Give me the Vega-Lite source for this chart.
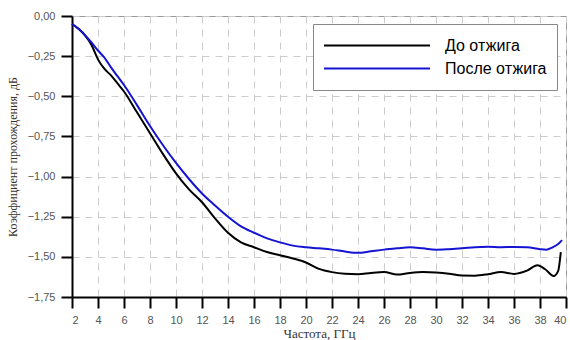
{
  "$schema": "https://vega.github.io/schema/vega-lite/v6.json",
  "width": 494,
  "height": 281,
  "autosize": {"type": "none"},
  "padding": {"left": 72, "top": 16, "right": 4, "bottom": 43},
  "background": "white",
  "config": {
    "view": {"stroke": "#999999", "strokeWidth": 1},
    "axis": {
      "domainColor": "#000000",
      "domainWidth": 2,
      "tickColor": "#000000",
      "tickWidth": 2,
      "tickSize": 11,
      "labelFont": "Liberation Sans",
      "labelFontSize": 11,
      "labelColor": "#555555",
      "gridColor": "#cccccc",
      "gridDash": [7, 6],
      "gridWidth": 1,
      "titleFont": "Liberation Serif",
      "titleFontSize": 12,
      "titleFontWeight": "normal",
      "titleColor": "#333333"
    }
  },
  "data": {
    "values": [
      {"f": 2, "v": -0.05, "s": "До отжига"},
      {"f": 2.5, "v": -0.08, "s": "До отжига"},
      {"f": 3, "v": -0.12, "s": "До отжига"},
      {"f": 3.5, "v": -0.18, "s": "До отжига"},
      {"f": 4, "v": -0.27, "s": "До отжига"},
      {"f": 4.5, "v": -0.33, "s": "До отжига"},
      {"f": 5, "v": -0.37, "s": "До отжига"},
      {"f": 5.5, "v": -0.42, "s": "До отжига"},
      {"f": 6, "v": -0.47, "s": "До отжига"},
      {"f": 7, "v": -0.6, "s": "До отжига"},
      {"f": 8, "v": -0.73, "s": "До отжига"},
      {"f": 9, "v": -0.86, "s": "До отжига"},
      {"f": 10, "v": -0.98, "s": "До отжига"},
      {"f": 11, "v": -1.08, "s": "До отжига"},
      {"f": 12, "v": -1.16, "s": "До отжига"},
      {"f": 13, "v": -1.26, "s": "До отжига"},
      {"f": 14, "v": -1.35, "s": "До отжига"},
      {"f": 15, "v": -1.41, "s": "До отжига"},
      {"f": 16, "v": -1.44, "s": "До отжига"},
      {"f": 17, "v": -1.47, "s": "До отжига"},
      {"f": 18, "v": -1.49, "s": "До отжига"},
      {"f": 19, "v": -1.51, "s": "До отжига"},
      {"f": 20, "v": -1.535, "s": "До отжига"},
      {"f": 21, "v": -1.575, "s": "До отжига"},
      {"f": 22, "v": -1.595, "s": "До отжига"},
      {"f": 23, "v": -1.605, "s": "До отжига"},
      {"f": 24, "v": -1.608, "s": "До отжига"},
      {"f": 25, "v": -1.6, "s": "До отжига"},
      {"f": 26, "v": -1.595, "s": "До отжига"},
      {"f": 27, "v": -1.61, "s": "До отжига"},
      {"f": 28, "v": -1.6, "s": "До отжига"},
      {"f": 29, "v": -1.595, "s": "До отжига"},
      {"f": 30, "v": -1.598, "s": "До отжига"},
      {"f": 31, "v": -1.605, "s": "До отжига"},
      {"f": 32, "v": -1.616, "s": "До отжига"},
      {"f": 33, "v": -1.617, "s": "До отжига"},
      {"f": 34, "v": -1.608, "s": "До отжига"},
      {"f": 35, "v": -1.594, "s": "До отжига"},
      {"f": 36, "v": -1.606, "s": "До отжига"},
      {"f": 37, "v": -1.586, "s": "До отжига"},
      {"f": 37.8, "v": -1.552, "s": "До отжига"},
      {"f": 38.4, "v": -1.577, "s": "До отжига"},
      {"f": 39.05, "v": -1.619, "s": "До отжига"},
      {"f": 39.4, "v": -1.587, "s": "До отжига"},
      {"f": 39.6, "v": -1.47, "s": "До отжига"},
      {"f": 2, "v": -0.05, "s": "После отжига"},
      {"f": 2.5, "v": -0.08, "s": "После отжига"},
      {"f": 3, "v": -0.12, "s": "После отжига"},
      {"f": 3.5, "v": -0.165, "s": "После отжига"},
      {"f": 4, "v": -0.215, "s": "После отжига"},
      {"f": 4.5, "v": -0.26, "s": "После отжига"},
      {"f": 5, "v": -0.32, "s": "После отжига"},
      {"f": 5.5, "v": -0.375, "s": "После отжига"},
      {"f": 6, "v": -0.43, "s": "После отжига"},
      {"f": 7, "v": -0.555, "s": "После отжига"},
      {"f": 8, "v": -0.685, "s": "После отжига"},
      {"f": 9, "v": -0.805, "s": "После отжига"},
      {"f": 10, "v": -0.915, "s": "После отжига"},
      {"f": 11, "v": -1.015, "s": "После отжига"},
      {"f": 12, "v": -1.105, "s": "После отжига"},
      {"f": 13, "v": -1.18, "s": "После отжига"},
      {"f": 14, "v": -1.25, "s": "После отжига"},
      {"f": 15, "v": -1.31, "s": "После отжига"},
      {"f": 16, "v": -1.35, "s": "После отжига"},
      {"f": 17, "v": -1.385, "s": "После отжига"},
      {"f": 18, "v": -1.41, "s": "После отжига"},
      {"f": 19, "v": -1.43, "s": "После отжига"},
      {"f": 20, "v": -1.44, "s": "После отжига"},
      {"f": 21, "v": -1.447, "s": "После отжига"},
      {"f": 22, "v": -1.455, "s": "После отжига"},
      {"f": 23, "v": -1.467, "s": "После отжига"},
      {"f": 24, "v": -1.475, "s": "После отжига"},
      {"f": 25, "v": -1.465, "s": "После отжига"},
      {"f": 26, "v": -1.455, "s": "После отжига"},
      {"f": 27, "v": -1.447, "s": "После отжига"},
      {"f": 28, "v": -1.44, "s": "После отжига"},
      {"f": 29, "v": -1.447, "s": "После отжига"},
      {"f": 30, "v": -1.455, "s": "После отжига"},
      {"f": 31, "v": -1.452, "s": "После отжига"},
      {"f": 32, "v": -1.447, "s": "После отжига"},
      {"f": 33, "v": -1.44, "s": "После отжига"},
      {"f": 34, "v": -1.437, "s": "После отжига"},
      {"f": 35, "v": -1.44, "s": "После отжига"},
      {"f": 36, "v": -1.438, "s": "После отжига"},
      {"f": 37, "v": -1.44, "s": "После отжига"},
      {"f": 38, "v": -1.452, "s": "После отжига"},
      {"f": 38.5, "v": -1.455, "s": "После отжига"},
      {"f": 39, "v": -1.44, "s": "После отжига"},
      {"f": 39.4, "v": -1.42, "s": "После отжига"},
      {"f": 39.7, "v": -1.396, "s": "После отжига"}
    ]
  },
  "mark": {"type": "line", "interpolate": "monotone", "strokeWidth": 2},
  "encoding": {
    "x": {
      "field": "f",
      "type": "quantitative",
      "scale": {"domain": [2, 40], "nice": false, "zero": false},
      "axis": {
        "title": "Частота, ГГц",
        "titleFontSize": 13,
        "values": [2,4,6,8,10,12,14,16,18,20,22,24,26,28,30,32,34,36,38,40],
        "labelPadding": 6,
        "titlePadding": 2
      }
    },
    "y": {
      "field": "v",
      "type": "quantitative",
      "scale": {"domain": [-1.75, 0], "nice": false, "zero": false},
      "axis": {
        "title": "Коэффициент прохождения, дБ",
        "values": [0, -0.25, -0.5, -0.75, -1, -1.25, -1.5, -1.75],
        "labelExpr": "replace(format(datum.value, '.2f'), '.', ',')",
        "labelPadding": 6,
        "titlePadding": 8
      }
    },
    "color": {
      "field": "s",
      "type": "nominal",
      "scale": {"domain": ["До отжига", "После отжига"], "range": ["#000000", "#1414d2"]},
      "legend": {
        "title": null,
        "orient": "none",
        "legendX": 241,
        "legendY": 8,
        "symbolType": "stroke",
        "symbolSize": 11236,
        "symbolStrokeWidth": 2,
        "clipHeight": 23,
        "rowPadding": 0,
        "labelFont": "Liberation Sans",
        "labelFontSize": 16,
        "labelColor": "#000000",
        "labelOffset": 14,
        "padding": 10,
        "strokeColor": "#888888",
        "fillColor": "white"
      }
    }
  }
}
